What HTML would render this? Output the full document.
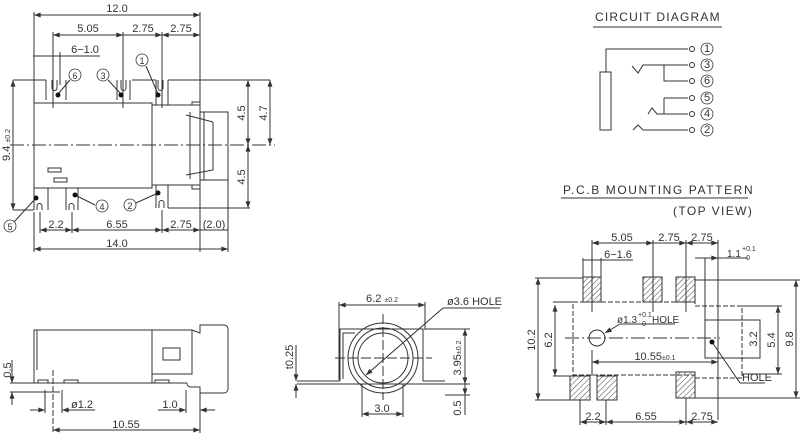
<!DOCTYPE html>
<html><head><meta charset="utf-8"><style>
html,body{margin:0;padding:0;background:#fff}
svg{display:block}
text{font-family:"Liberation Sans",sans-serif;font-size:11px;fill:#333}
.s{font-size:7px}
</style></head><body>
<svg width="800" height="442" viewBox="0 0 800 442" xmlns="http://www.w3.org/2000/svg">
<defs>
<marker id="a" viewBox="0 0 8 6" refX="8" refY="3" markerWidth="7" markerHeight="5" orient="auto-start-reverse"><path d="M0,0L8,3L0,6z" fill="#333"/></marker>
<pattern id="h" width="4" height="4" patternUnits="userSpaceOnUse" patternTransform="rotate(45)"><line x1="0" y1="0" x2="0" y2="4" stroke="#444" stroke-width="1"/></pattern>
</defs>
<g stroke="#333" stroke-width="1" fill="none">
<line x1="34" y1="15" x2="200" y2="15" marker-start="url(#a)" marker-end="url(#a)"/>
<line x1="34" y1="12" x2="34" y2="103"/><line x1="200" y1="12" x2="200" y2="105"/>
<line x1="53" y1="35" x2="123" y2="35" marker-start="url(#a)" marker-end="url(#a)"/>
<line x1="123" y1="35" x2="162" y2="35" marker-end="url(#a)"/>
<line x1="162" y1="35" x2="200" y2="35" marker-start="url(#a)" marker-end="url(#a)"/>
<line x1="53" y1="32" x2="53" y2="108"/><line x1="123" y1="32" x2="123" y2="108"/><line x1="162" y1="32" x2="162" y2="108"/>
<line x1="33" y1="56" x2="100" y2="56"/><line x1="60" y1="52" x2="60" y2="85"/>
<path d="M46,80V100M66,80V100M52,80v8a2.5,2.5 0 0 0 5,0v-8"/>
<path d="M117,80V100M130,80V100M121,80v8a2.5,2.5 0 0 0 5,0v-8"/>
<path d="M156,80V105M168,80V105M158,80v8a2.5,2.5 0 0 0 5,0v-8"/>
<line x1="13" y1="80" x2="46" y2="80"/><line x1="132" y1="80" x2="156" y2="80"/><line x1="168" y1="80" x2="270" y2="80"/>
<rect x="34" y="103" width="118" height="85"/>
<rect x="152" y="105" width="48" height="80"/>
<path d="M192,105V102H200V112H228V180H200V189H192V185"/>
<path d="M190,112V179M204,112V180M213,122L186,115M213,122V170L186,175"/>
<rect x="48" y="168" width="13" height="4"/><rect x="54" y="178" width="13" height="4"/>
<line x1="10" y1="145" x2="275" y2="145" stroke-dasharray="14,3,2,3"/>
<line x1="13" y1="80" x2="13" y2="210" marker-start="url(#a)" marker-end="url(#a)"/>
<line x1="248" y1="80" x2="248" y2="145" marker-start="url(#a)" marker-end="url(#a)"/>
<line x1="248" y1="145" x2="248" y2="208" marker-start="url(#a)" marker-end="url(#a)"/>
<line x1="270" y1="80" x2="270" y2="145" marker-start="url(#a)" marker-end="url(#a)"/>
<path d="M34,188V210M48,188V210M37,210v-4a2.5,2.5 0 0 1 5,0v4"/>
<path d="M66,188V210M78,188V210M69,210v-4a2.5,2.5 0 0 1 5,0v4"/>
<path d="M156,185V208M168,185V208M159,208v-5a2.5,2.5 0 0 1 5,0v5"/>
<line x1="13" y1="210" x2="34" y2="210"/><line x1="168" y1="208" x2="250" y2="208"/>
<line x1="40" y1="212" x2="40" y2="233"/><line x1="72" y1="212" x2="72" y2="233"/><line x1="162" y1="210" x2="162" y2="233"/>
<line x1="200" y1="185" x2="200" y2="252"/><line x1="228" y1="180" x2="228" y2="252"/><line x1="34" y1="212" x2="34" y2="252"/>
<line x1="40" y1="230" x2="72" y2="230" marker-start="url(#a)" marker-end="url(#a)"/>
<line x1="72" y1="230" x2="162" y2="230" marker-start="url(#a)" marker-end="url(#a)"/>
<line x1="162" y1="230" x2="200" y2="230" marker-start="url(#a)" marker-end="url(#a)"/>
<line x1="200" y1="230" x2="228" y2="230"/>
<line x1="34" y1="249" x2="228" y2="249" marker-start="url(#a)" marker-end="url(#a)"/>
<line x1="58" y1="94" x2="70" y2="80"/><line x1="121" y1="94" x2="108" y2="80"/><line x1="158" y1="94" x2="146" y2="66"/>
<line x1="36" y1="198" x2="14" y2="222"/><line x1="75" y1="195" x2="95" y2="205"/><line x1="158" y1="193" x2="136" y2="203"/>
<g stroke-width="0.8"><circle cx="75" cy="75" r="6"/><circle cx="103" cy="75" r="6"/><circle cx="142" cy="60" r="6"/>
<circle cx="10" cy="226" r="6"/><circle cx="102" cy="206" r="6"/><circle cx="130" cy="205" r="6"/></g>
</g>
<g fill="#111"><circle cx="58" cy="95" r="2.5"/><circle cx="121" cy="95" r="2.5"/><circle cx="158" cy="95" r="2.5"/>
<circle cx="36" cy="198" r="2.5"/><circle cx="75" cy="195" r="2.5"/><circle cx="158" cy="193" r="2.5"/></g>
<text x="117" y="12" text-anchor="middle">12.0</text>
<text x="88" y="32" text-anchor="middle">5.05</text><text x="143" y="32" text-anchor="middle">2.75</text><text x="181" y="32" text-anchor="middle">2.75</text>
<text x="85" y="53" text-anchor="middle">6−1.0</text>
<text x="75" y="79" text-anchor="middle" style="font-size:9px">6</text><text x="103" y="79" text-anchor="middle" style="font-size:9px">3</text><text x="142" y="64" text-anchor="middle" style="font-size:9px">1</text>
<text x="10" y="230" text-anchor="middle" style="font-size:9px">5</text><text x="102" y="210" text-anchor="middle" style="font-size:9px">4</text><text x="130" y="209" text-anchor="middle" style="font-size:9px">2</text>
<text transform="translate(10,145) rotate(-90)" text-anchor="middle">9.4 <tspan class="s">±0.2</tspan></text>
<text transform="translate(245,113) rotate(-90)" text-anchor="middle">4.5</text>
<text transform="translate(245,177) rotate(-90)" text-anchor="middle">4.5</text>
<text transform="translate(267,113) rotate(-90)" text-anchor="middle">4.7</text>
<text x="56" y="228" text-anchor="middle">2.2</text><text x="117" y="228" text-anchor="middle">6.55</text><text x="181" y="228" text-anchor="middle">2.75</text><text x="214" y="228" text-anchor="middle">(2.0)</text>
<text x="117" y="247" text-anchor="middle">14.0</text>

<g stroke="#333" stroke-width="1" fill="none">
<rect x="34" y="330" width="118" height="53"/>
<line x1="37" y1="330" x2="37" y2="370"/>
<path d="M152,330H192V374H152"/>
<rect x="163" y="348" width="17" height="12"/>
<path d="M192,330L200,333V325H224a4,4 0 0 1 4,4V389a4,4 0 0 1-4,4H200V387H190a4,4 0 0 1-3,-4"/>
<path d="M152,374V383H187"/>
<rect x="38" y="380" width="10" height="3"/><rect x="64" y="380" width="14" height="3"/><rect x="155" y="380" width="14" height="3"/>
<line x1="10" y1="383" x2="34" y2="383"/><line x1="10" y1="392" x2="60" y2="392"/>
<line x1="12" y1="360" x2="12" y2="383" marker-end="url(#a)"/><line x1="12" y1="392" x2="12" y2="405" marker-start="url(#a)"/>
<line x1="53" y1="370" x2="53" y2="433" stroke-dasharray="6,2"/>
<line x1="45" y1="390" x2="45" y2="413"/><line x1="62" y1="390" x2="62" y2="413"/>
<line x1="30" y1="410" x2="45" y2="410" marker-end="url(#a)"/><line x1="62" y1="410" x2="95" y2="410" marker-start="url(#a)"/>
<line x1="186" y1="390" x2="186" y2="413"/><line x1="200" y1="393" x2="200" y2="433"/>
<line x1="158" y1="410" x2="186" y2="410" marker-end="url(#a)"/><line x1="200" y1="410" x2="215" y2="410" marker-start="url(#a)"/>
<line x1="53" y1="430" x2="200" y2="430" marker-start="url(#a)" marker-end="url(#a)"/>
</g>
<text transform="translate(11,370) rotate(-90)" text-anchor="middle">0.5</text>
<text x="82" y="408" text-anchor="middle">ø1.2</text><text x="170" y="408" text-anchor="middle">1.0</text>
<text x="126" y="428" text-anchor="middle">10.55</text>

<g stroke="#333" stroke-width="1" fill="none">
<line x1="339" y1="305" x2="425" y2="305" marker-start="url(#a)" marker-end="url(#a)"/>
<line x1="339" y1="302" x2="339" y2="380"/><line x1="425" y1="302" x2="425" y2="330"/>
<path d="M340,381V329H423V381"/><path d="M343,379V333H355"/>
<path d="M297,381H340M423,381H445M297,384H445" />
<circle cx="383" cy="358" r="35"/><circle cx="383" cy="358" r="30"/><circle cx="383" cy="358" r="25"/>
<line x1="335" y1="358" x2="432" y2="358" stroke-dasharray="10,3"/>
<line x1="383" y1="314" x2="383" y2="400" stroke-dasharray="10,3"/>
<line x1="366" y1="375" x2="443" y2="308" marker-start="url(#a)"/><line x1="443" y1="308" x2="500" y2="308"/>
<line x1="362" y1="384" x2="362" y2="417"/><line x1="403" y1="384" x2="403" y2="417"/>
<line x1="362" y1="414" x2="403" y2="414" marker-start="url(#a)" marker-end="url(#a)"/>
<line x1="296" y1="345" x2="296" y2="381" marker-end="url(#a)"/><line x1="296" y1="384" x2="296" y2="398" marker-start="url(#a)"/>
<line x1="425" y1="329" x2="470" y2="329"/><line x1="445" y1="384" x2="470" y2="384"/><line x1="445" y1="395" x2="470" y2="395"/>
<line x1="465" y1="329" x2="465" y2="384" marker-start="url(#a)" marker-end="url(#a)"/>
<line x1="465" y1="384" x2="465" y2="395" marker-end="url(#a)"/><line x1="465" y1="395" x2="465" y2="415"/>
</g>
<text x="382" y="302" text-anchor="middle">6.2 <tspan class="s">±0.2</tspan></text>
<text x="447" y="305">ø3.6 HOLE</text>
<text x="382" y="412" text-anchor="middle">3.0</text>
<text transform="translate(293,357) rotate(-90)" text-anchor="middle">t0.25</text>
<text transform="translate(461,358) rotate(-90)" text-anchor="middle">3.95<tspan class="s">±0.2</tspan></text>
<text transform="translate(461,408) rotate(-90)" text-anchor="middle">0.5</text>

<text x="595" y="21" style="font-size:12px;letter-spacing:1.2px">CIRCUIT DIAGRAM</text>
<g stroke="#333" stroke-width="1" fill="none">
<line x1="593" y1="27" x2="722" y2="27"/>
<rect x="600" y="72" width="11" height="58"/>
<path d="M606,72V49H688"/>
<path d="M632,66L638,73L643,65H688M664,65V81H688M664,98H688M664,98V114M648,114L652,108L657,114H688M633,130L638,125L643,130H688"/>
<line x1="664" y1="65" x2="664" y2="71"/><line x1="664" y1="104" x2="664" y2="112"/>
<circle cx="692" cy="49" r="2.5"/><circle cx="692" cy="65" r="2.5"/><circle cx="692" cy="81" r="2.5"/><circle cx="692" cy="98" r="2.5"/><circle cx="692" cy="114" r="2.5"/><circle cx="692" cy="130" r="2.5"/>
<g stroke-width="0.8"><circle cx="707" cy="49" r="6"/><circle cx="707" cy="65" r="6"/><circle cx="707" cy="81" r="6"/><circle cx="707" cy="98" r="6"/><circle cx="707" cy="114" r="6"/><circle cx="707" cy="130" r="6"/></g>
<line x1="561" y1="198" x2="748" y2="198"/>
</g>
<g style="font-size:9px" text-anchor="middle"><text x="707" y="52">1</text><text x="707" y="68">3</text><text x="707" y="84">6</text><text x="707" y="101">5</text><text x="707" y="117">4</text><text x="707" y="133">2</text></g>
<text x="563" y="194" style="font-size:12px;letter-spacing:1.6px">P.C.B MOUNTING PATTERN</text>
<text x="673" y="215" style="font-size:12px;letter-spacing:1.4px">(TOP VIEW)</text>

<g stroke="#333" stroke-width="1" fill="none">
<line x1="592" y1="243" x2="653" y2="243" marker-start="url(#a)" marker-end="url(#a)"/>
<line x1="653" y1="243" x2="686" y2="243" marker-end="url(#a)"/>
<line x1="686" y1="243" x2="718" y2="243" marker-start="url(#a)" marker-end="url(#a)"/>
<line x1="592" y1="240" x2="592" y2="312"/><line x1="653" y1="240" x2="653" y2="312"/><line x1="686" y1="240" x2="686" y2="312"/><line x1="718" y1="240" x2="718" y2="420"/>
<line x1="583" y1="260" x2="633" y2="260"/><line x1="583" y1="258" x2="583" y2="277"/><line x1="601" y1="258" x2="601" y2="277"/>
<line x1="695" y1="258" x2="718" y2="258" marker-end="url(#a)"/><line x1="705" y1="258" x2="705" y2="320"/><line x1="718" y1="258" x2="748" y2="258"/>
<g fill="url(#h)"><rect x="583" y="277" width="18" height="25"/><rect x="643" y="277" width="19" height="25"/><rect x="676" y="277" width="19" height="25"/>
<rect x="570" y="376" width="20" height="24"/><rect x="597" y="376" width="20" height="24"/><rect x="676" y="372" width="19" height="26"/></g>
<path d="M573,302H695V306H742V378H695V375H573Z" stroke-dasharray="5,2"/>
<circle cx="597" cy="338" r="8"/>
<line x1="565" y1="338" x2="720" y2="338" stroke-dasharray="14,3,2,3"/>
<line x1="605" y1="333" x2="620" y2="324" marker-start="url(#a)"/><line x1="620" y1="324" x2="675" y2="324"/>
<rect x="705" y="320" width="55" height="38"/>
<line x1="592" y1="362" x2="718" y2="362" marker-start="url(#a)" marker-end="url(#a)"/><line x1="592" y1="350" x2="592" y2="376"/>
<line x1="712" y1="342" x2="740" y2="383"/><line x1="740" y1="383" x2="765" y2="383"/>
<line x1="538" y1="278" x2="538" y2="400" marker-start="url(#a)" marker-end="url(#a)"/><line x1="535" y1="278" x2="583" y2="278"/><line x1="535" y1="400" x2="570" y2="400"/>
<line x1="555" y1="305" x2="555" y2="376" marker-start="url(#a)" marker-end="url(#a)"/><line x1="553" y1="302" x2="573" y2="302"/><line x1="553" y1="376" x2="573" y2="376"/>
<line x1="760" y1="320" x2="760" y2="358"/>
<line x1="742" y1="306" x2="782" y2="306"/><line x1="742" y1="374" x2="782" y2="374"/>
<line x1="778" y1="306" x2="778" y2="374" marker-start="url(#a)" marker-end="url(#a)"/>
<line x1="695" y1="280" x2="800" y2="280"/><line x1="695" y1="398" x2="800" y2="398"/>
<line x1="796" y1="280" x2="796" y2="398" marker-start="url(#a)" marker-end="url(#a)"/>
<line x1="580" y1="400" x2="580" y2="425"/><line x1="606" y1="400" x2="606" y2="425"/><line x1="686" y1="398" x2="686" y2="425"/>
<line x1="580" y1="422" x2="606" y2="422" marker-start="url(#a)" marker-end="url(#a)"/>
<line x1="606" y1="422" x2="686" y2="422" marker-start="url(#a)" marker-end="url(#a)"/>
<line x1="686" y1="422" x2="718" y2="422" marker-start="url(#a)" marker-end="url(#a)"/>
</g>
<circle cx="712" cy="342" r="2.5" fill="#111"/>
<text x="622" y="241" text-anchor="middle">5.05</text><text x="669" y="241" text-anchor="middle">2.75</text><text x="702" y="241" text-anchor="middle">2.75</text>
<text x="618" y="258" text-anchor="middle">6−1.6</text>
<text x="727" y="257" style="font-size:10px">1.1</text><text x="742" y="251" class="s">+0.1</text><text x="742" y="260" class="s">−0</text>
<text x="617" y="323" style="font-size:10px">ø1.3</text><text x="638" y="317" class="s">+0.1</text><text x="638" y="326" class="s">−0</text><text x="652" y="323" style="font-size:10px">HOLE</text>
<text x="655" y="360" text-anchor="middle">10.55<tspan class="s">±0.1</tspan></text>
<text x="742" y="381">HOLE</text>
<text transform="translate(535,340) rotate(-90)" text-anchor="middle">10.2</text>
<text transform="translate(552,340) rotate(-90)" text-anchor="middle">6.2</text>
<text transform="translate(757,339) rotate(-90)" text-anchor="middle">3.2</text>
<text transform="translate(775,340) rotate(-90)" text-anchor="middle">5.4</text>
<text transform="translate(793,339) rotate(-90)" text-anchor="middle">9.8</text>
<text x="593" y="420" text-anchor="middle">2.2</text><text x="646" y="420" text-anchor="middle">6.55</text><text x="702" y="420" text-anchor="middle">2.75</text>
</svg>
</body></html>
